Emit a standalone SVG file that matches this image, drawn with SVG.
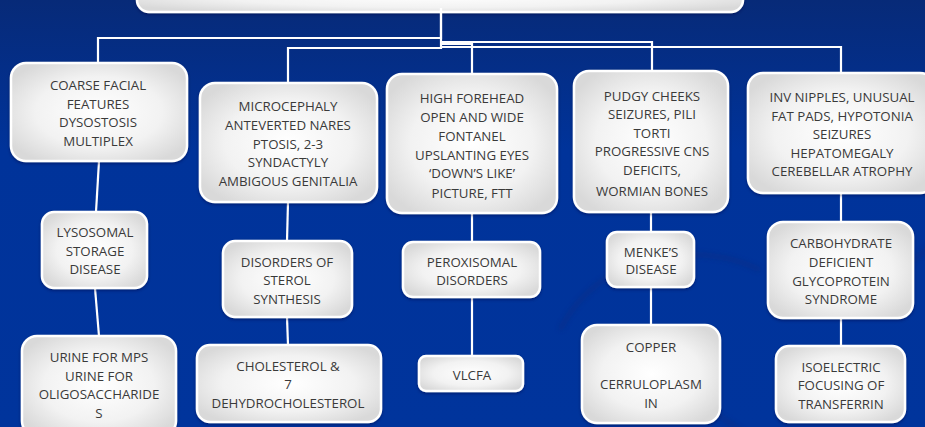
<svg xmlns="http://www.w3.org/2000/svg" width="925" height="427" viewBox="0 0 925 427">
<defs>
<linearGradient id="bg" x1="0" y1="0" x2="0" y2="1">
<stop offset="0" stop-color="#072a78"/>
<stop offset="0.35" stop-color="#00339a"/>
<stop offset="1" stop-color="#00349c"/>
</linearGradient>
<radialGradient id="boxfill" cx="0.5" cy="0.5" r="0.6">
<stop offset="0" stop-color="#ffffff"/>
<stop offset="0.6" stop-color="#f2f2f2"/>
<stop offset="1" stop-color="#d9d9d9"/>
</radialGradient>
<filter id="sh" x="-10%" y="-10%" width="120%" height="130%">
<feDropShadow dx="0" dy="1.5" stdDeviation="1.5" flood-color="#001040" flood-opacity="0.45"/>
</filter>
<filter id="blur"><feGaussianBlur stdDeviation="2"/></filter>
</defs>
<style>
.box{fill:url(#boxfill);stroke:#ffffff;stroke-width:2.5;filter:url(#sh)}
.t{font-family:"Open Sans","Noto Sans","Liberation Sans",sans-serif;font-size:13.3px;fill:#3a3a3a;text-anchor:middle}
.c{fill:none;stroke:#ffffff;stroke-width:2.2}
.arc{fill:none;stroke:#0a2a80;stroke-width:6;opacity:0.35;filter:url(#blur)}
</style>
<rect width="925" height="427" fill="url(#bg)"/>
<path class="arc" d="M560,330 C600,250 700,240 760,270"/>
<path class="arc" d="M600,360 C680,380 740,430 780,460"/>
<path class="arc" d="M870,300 C900,270 925,250 940,240"/>

<g id="top">
<rect class="box" x="137" y="-20" width="606" height="32" rx="12"/>
</g>

<g id="connectors">
<path class="c" d="M441,8 V38 H98 V63"/>
<path class="c" d="M441,8 V48 H288 V83"/>
<path class="c" d="M441,44 H472 V74"/>
<path class="c" d="M441,42 H652 V71"/>
<path class="c" d="M441,47 H841 V73"/>
<path class="c" d="M99,161 L96,212"/>
<path class="c" d="M95,288 L99,336"/>
<path class="c" d="M288,202 L287,241"/>
<path class="c" d="M287,317 L288,345"/>
<path class="c" d="M472,213 V242"/>
<path class="c" d="M472,297 V356"/>
<path class="c" d="M651,212 V232"/>
<path class="c" d="M651,287 V325"/>
<path class="c" d="M841,193 V222"/>
<path class="c" d="M841,318 V346"/>
</g>

<g id="coarse">
<rect class="box" x="11" y="63" width="176" height="98" rx="15"/>
<text class="t" x="98" y="90">COARSE FACIAL</text>
<text class="t" x="98" y="109">FEATURES</text>
<text class="t" x="98" y="127">DYSOSTOSIS</text>
<text class="t" x="98" y="146">MULTIPLEX</text>
</g>
<g id="lysosomal">
<rect class="box" x="42" y="212" width="105" height="76" rx="12"/>
<text class="t" x="95" y="237">LYSOSOMAL</text>
<text class="t" x="95" y="256">STORAGE</text>
<text class="t" x="95" y="274">DISEASE</text>
</g>
<g id="urine">
<rect class="box" x="22" y="336" width="154" height="100" rx="15"/>
<text class="t" x="99" y="362">URINE FOR MPS</text>
<text class="t" x="99" y="381">URINE FOR</text>
<text class="t" x="99" y="399">OLIGOSACCHARIDE</text>
<text class="t" x="99" y="418">S</text>
</g>

<g id="microcephaly">
<rect class="box" x="200" y="83" width="177" height="119" rx="15"/>
<text class="t" x="288" y="111">MICROCEPHALY</text>
<text class="t" x="288" y="130">ANTEVERTED NARES</text>
<text class="t" x="288" y="149">PTOSIS, 2-3</text>
<text class="t" x="288" y="167">SYNDACTYLY</text>
<text class="t" x="288" y="186">AMBIGOUS GENITALIA</text>
</g>
<g id="sterol">
<rect class="box" x="223" y="241" width="129" height="76" rx="12"/>
<text class="t" x="287" y="267">DISORDERS OF</text>
<text class="t" x="287" y="285">STEROL</text>
<text class="t" x="287" y="304">SYNTHESIS</text>
</g>
<g id="cholesterol">
<rect class="box" x="197" y="345" width="184" height="77" rx="13"/>
<text class="t" x="288" y="371">CHOLESTEROL &amp;</text>
<text class="t" x="288" y="389">7</text>
<text class="t" x="288" y="408">DEHYDROCHOLESTEROL</text>
</g>

<g id="forehead">
<rect class="box" x="387" y="74" width="170" height="139" rx="15"/>
<text class="t" x="472" y="103">HIGH FOREHEAD</text>
<text class="t" x="472" y="122">OPEN AND WIDE</text>
<text class="t" x="472" y="141">FONTANEL</text>
<text class="t" x="472" y="160">UPSLANTING EYES</text>
<text class="t" x="472" y="178">‘DOWN’S LIKE’</text>
<text class="t" x="472" y="198">PICTURE, FTT</text>
</g>
<g id="peroxisomal">
<rect class="box" x="403" y="242" width="137" height="55" rx="10"/>
<text class="t" x="472" y="267">PEROXISOMAL</text>
<text class="t" x="472" y="285">DISORDERS</text>
</g>
<g id="vlcfa">
<rect class="box" x="419" y="356" width="104" height="35" rx="7"/>
<text class="t" x="472" y="380">VLCFA</text>
</g>

<g id="pudgy">
<rect class="box" x="574" y="71" width="154" height="141" rx="15"/>
<text class="t" x="652" y="101">PUDGY CHEEKS</text>
<text class="t" x="652" y="119">SEIZURES, PILI</text>
<text class="t" x="652" y="138">TORTI</text>
<text class="t" x="652" y="156">PROGRESSIVE CNS</text>
<text class="t" x="652" y="175">DEFICITS,</text>
<text class="t" x="652" y="196">WORMIAN BONES</text>
</g>
<g id="menke">
<rect class="box" x="607" y="232" width="87" height="55" rx="10"/>
<text class="t" x="651" y="257">MENKE’S</text>
<text class="t" x="651" y="274">DISEASE</text>
</g>
<g id="copper">
<rect class="box" x="582" y="325" width="138" height="98" rx="15"/>
<text class="t" x="651" y="352">COPPER</text>
<text class="t" x="651" y="389">CERRULOPLASM</text>
<text class="t" x="651" y="408">IN</text>
</g>

<g id="nipples">
<rect class="box" x="748" y="73" width="187" height="120" rx="15"/>
<text class="t" x="842" y="102">INV NIPPLES, UNUSUAL</text>
<text class="t" x="842" y="121">FAT PADS, HYPOTONIA</text>
<text class="t" x="842" y="139">SEIZURES</text>
<text class="t" x="842" y="158">HEPATOMEGALY</text>
<text class="t" x="842" y="176">CEREBELLAR ATROPHY</text>
</g>
<g id="carbohydrate">
<rect class="box" x="768" y="222" width="145" height="96" rx="15"/>
<text class="t" x="841" y="248">CARBOHYDRATE</text>
<text class="t" x="841" y="267">DEFICIENT</text>
<text class="t" x="841" y="286">GLYCOPROTEIN</text>
<text class="t" x="841" y="304">SYNDROME</text>
</g>
<g id="isoelectric">
<rect class="box" x="776" y="346" width="129" height="76" rx="13"/>
<text class="t" x="841" y="372">ISOELECTRIC</text>
<text class="t" x="841" y="390">FOCUSING OF</text>
<text class="t" x="841" y="409">TRANSFERRIN</text>
</g>
</svg>
